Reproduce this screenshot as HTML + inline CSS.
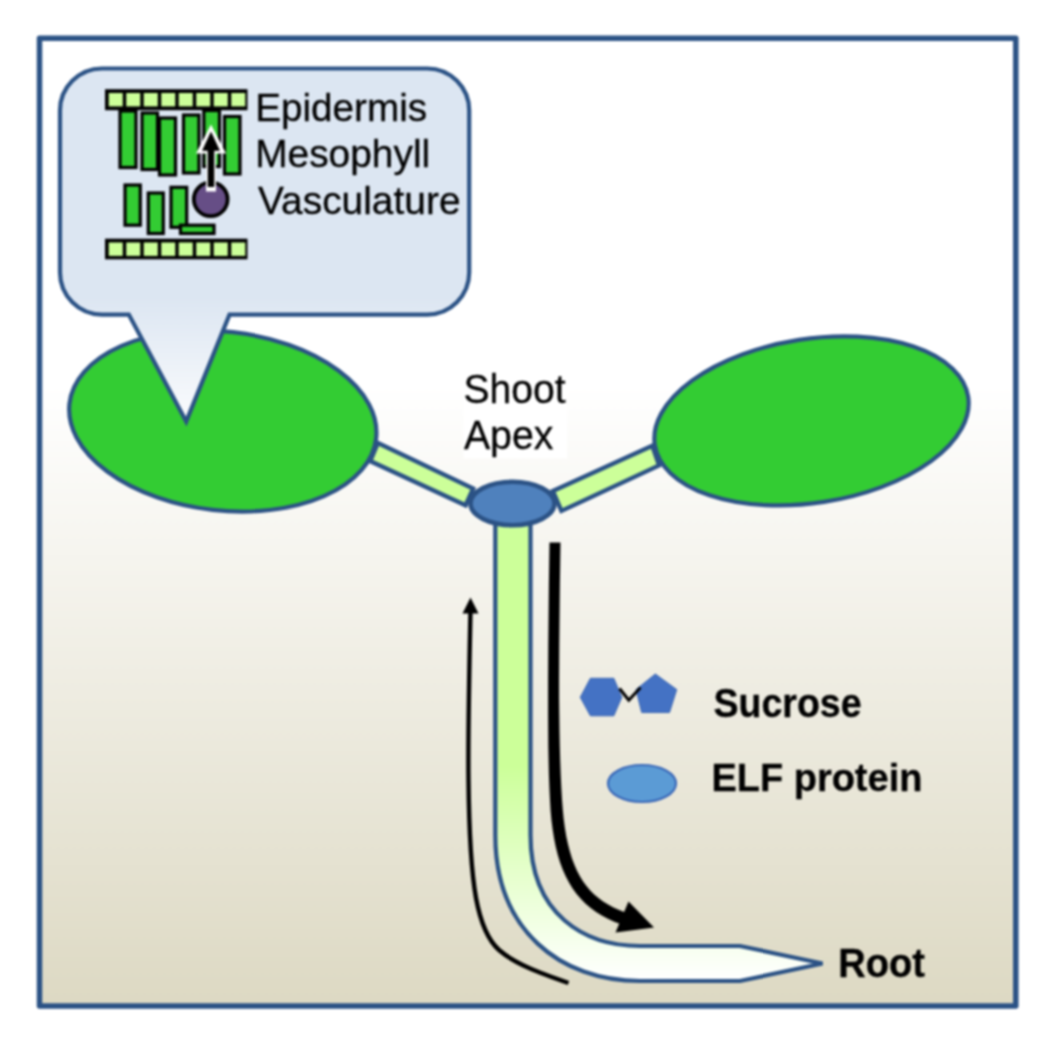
<!DOCTYPE html>
<html><head><meta charset="utf-8">
<style>
html,body{margin:0;padding:0;background:#fff;}
body{width:1050px;height:1039px;overflow:hidden;}
svg{display:block;}
text{font-family:"Liberation Sans",sans-serif;fill:#000;}
</style></head><body>
<svg width="1050" height="1039" viewBox="0 0 1050 1039">
<defs>
<linearGradient id="bg" x1="0" y1="0" x2="0" y2="1">
<stop offset="0" stop-color="#ffffff"/>
<stop offset="0.36" stop-color="#ffffff"/>
<stop offset="1" stop-color="#ddd9c3"/>
</linearGradient>
<linearGradient id="stem" gradientUnits="userSpaceOnUse" x1="0" y1="520" x2="0" y2="985">
<stop offset="0" stop-color="#ccff99"/>
<stop offset="0.527" stop-color="#ccff99"/>
<stop offset="0.989" stop-color="#ffffff"/>
<stop offset="1" stop-color="#ffffff"/>
</linearGradient>
<linearGradient id="call" gradientUnits="userSpaceOnUse" x1="0" y1="68" x2="0" y2="420">
<stop offset="0" stop-color="#dce6f2"/>
<stop offset="0.65" stop-color="#dce6f2"/>
<stop offset="1" stop-color="#fafbfd"/>
</linearGradient>
<filter id="soft" color-interpolation-filters="sRGB" x="0" y="0" width="1050" height="1039" filterUnits="userSpaceOnUse"><feGaussianBlur stdDeviation="0.8"/></filter>
</defs>
<g id="all" filter="url(#soft)">
<!-- frame -->
<rect x="39.500" y="38.300" width="976.300" height="967.800" fill="url(#bg)" stroke="#2b5285" stroke-width="5.500" stroke-linejoin="round"/>

<!-- petioles -->
<g fill="#ccff99" stroke="#2b5285" stroke-width="4.400">
<polygon points="377.900,442.900 473.100,488.600 465.500,505.300 370.200,461.100"/>
<polygon points="552.900,491.100 652.300,445.700 659.100,465.400 561.400,510.900"/>
</g>
<!-- stem -->
<path id="stempath" d="M495.300,520 L495.300,835 C495.300,930 560,981 640,981 L740,981 L822.500,963.500 L740,946 L640,946 C585,946 530.500,915 530.500,835 L530.500,520 Z" fill="url(#stem)" stroke="#2b5285" stroke-width="4.200" stroke-linejoin="miter"/>

<!-- leaves -->
<g fill="#33cc33" stroke="#2b5285" stroke-width="4.200">
<ellipse cx="222.800" cy="421" rx="154.300" ry="89.400" transform="rotate(6.500 222.800 421)"/>
<ellipse cx="811.500" cy="420.900" rx="158.500" ry="82" transform="rotate(-8.750 811.500 420.900)"/>
</g>
<!-- apex -->
<ellipse cx="512.500" cy="503.500" rx="42" ry="21.700" fill="#4f81bd" stroke="#2b5285" stroke-width="4.600"/>

<!-- callout -->
<path d="M102,68.500 L427.200,68.500 A42,42 0 0 1 469.200,110.500 L469.200,272.600 A42,42 0 0 1 427.200,314.600 L229.500,314.600 L186.200,421.500 L128.800,314.600 L102,314.600 A42,42 0 0 1 60,272.600 L60,110.500 A42,42 0 0 1 102,68.500 Z" fill="url(#call)" stroke="#2b5285" stroke-width="4.200" stroke-linejoin="miter"/>

<!-- cells -->
<g id="cells">
<rect x="105" y="89.200" width="142.500" height="21" fill="#000"/>
<rect x="105" y="238.700" width="142.500" height="20.600" fill="#000"/>
<g fill="#ccff99">
<rect x="108.75" y="93" width="14" height="13.400"/><rect x="126.25" y="93" width="14" height="13.400"/><rect x="143.75" y="93" width="14" height="13.400"/><rect x="161.25" y="93" width="14" height="13.400"/><rect x="178.75" y="93" width="14" height="13.400"/><rect x="196.25" y="93" width="14" height="13.400"/><rect x="213.75" y="93" width="14" height="13.400"/><rect x="231.25" y="93" width="14" height="13.400"/>
<rect x="108.75" y="242.5" width="14" height="13.400"/><rect x="126.25" y="242.5" width="14" height="13.400"/><rect x="143.75" y="242.5" width="14" height="13.400"/><rect x="161.25" y="242.5" width="14" height="13.400"/><rect x="178.75" y="242.5" width="14" height="13.400"/><rect x="196.25" y="242.5" width="14" height="13.400"/><rect x="213.75" y="242.5" width="14" height="13.400"/><rect x="231.25" y="242.5" width="14" height="13.400"/>
</g>
<g fill="#33cc33" stroke="#000" stroke-width="3.200">
<rect x="120" y="111" width="16" height="56.500"/>
<rect x="142" y="113" width="15.500" height="56.500"/>
<rect x="159.500" y="118" width="16" height="57"/>
<rect x="183.500" y="115" width="15.500" height="58"/>
<rect x="203.800" y="110.500" width="15.700" height="56"/>
<rect x="224.500" y="116.500" width="15.500" height="57.500"/>
<rect x="125" y="185" width="15.300" height="40.200"/>
<rect x="148.300" y="193" width="15" height="40.500"/>
<rect x="171" y="187.300" width="15.700" height="40"/>
<rect x="180.500" y="225.200" width="33.500" height="8.300"/>
</g>
<circle cx="210.700" cy="199.300" r="16.900" fill="#664e86" stroke="#000" stroke-width="3.800"/>
<path d="M211,124.500 L226,153.500 L216,153.500 L216,191.500 L206,191.500 L206,153.500 L196,153.500 Z" fill="#fff"/>
<path d="M211,131.500 L220,150.800 L214.300,150.800 L214.300,187 L207.700,187 L207.700,150.800 L202,150.800 Z" fill="#000"/>
</g>

<rect x="463.500" y="368" width="103.500" height="90.500" fill="#fff" opacity="0.900"/>
<!-- legend -->
<polygon points="580.300,697.300 590.400,678.300 613.800,678.300 621.800,697.300 613.800,715.800 590.400,715.800" fill="#4472c4" stroke="#3b66b4" stroke-width="1"/>
<polygon points="655.300,674 676.700,689.600 669.500,712.500 641.700,712.500 636,689.600" fill="#4472c4" stroke="#3b66b4" stroke-width="1"/>
<polyline points="619.500,688.500 628.800,700.300 640.500,687.500" fill="none" stroke="#000" stroke-width="3"/>
<ellipse cx="642" cy="783.500" rx="34" ry="18.500" fill="#5b9bd5" stroke="#3a68b8" stroke-width="2.200"/>

<!-- thin arrow -->
<path d="M470.500,610 C469,680 468,740 468.500,780 C469,830 471,870 476,898 C481,925 489,941 499,950 C515,964 540,973 568.500,983" fill="none" stroke="#000" stroke-width="4.400"/>
<polygon points="470.500,597.500 478.500,613.500 462.500,613.500" fill="#000"/>
<!-- thick arrow -->
<path d="M549.5,542.4 L549.2,563.7 L548.9,584.5 L548.7,604.7 L548.5,624.5 L548.3,643.7 L548.2,662.3 L548.1,680.3 L548.1,697.7 L548.1,714.4 L548.2,730.5 L548.3,745.9 L548.6,760.7 L548.9,774.6 L549.4,787.9 L550.0,800.4 L550.6,810.7 L551.5,820.5 L552.7,829.8 L554.1,838.6 L555.8,847.0 L557.8,855.0 L560.1,862.5 L562.7,869.6 L565.7,876.2 L569.0,882.5 L572.6,888.4 L576.6,893.9 L581.0,899.0 L585.6,903.7 L590.7,908.0 L596.1,911.9 L601.8,915.5 L607.9,918.7 L614.3,921.7 L621.1,924.2 L628.2,926.5 L631.8,914.5 L625.3,912.4 L619.2,910.0 L613.5,907.4 L608.1,904.6 L603.1,901.5 L598.5,898.1 L594.2,894.4 L590.2,890.4 L586.5,886.1 L583.1,881.4 L579.9,876.3 L577.0,870.8 L574.4,864.8 L572.0,858.4 L569.9,851.6 L568.0,844.2 L566.3,836.4 L564.9,828.0 L563.7,819.1 L562.8,809.7 L562.0,799.6 L561.3,787.3 L560.7,774.2 L560.2,760.3 L559.8,745.7 L559.5,730.4 L559.3,714.4 L559.1,697.7 L559.1,680.3 L559.2,662.3 L559.3,643.7 L559.5,624.6 L559.7,604.9 L559.9,584.6 L560.2,563.8 L560.5,542.6 Z" fill="#000"/>
<polygon points="654,927.500 628.500,901.500 615.500,932.500" fill="#000"/>
</g>
<g id="labels" filter="url(#soft)" stroke="#000" stroke-width="0.300" stroke-linejoin="round">
<!-- labels -->
<text id="t1" x="255.20" y="121" font-size="39" textLength="171.90" lengthAdjust="spacingAndGlyphs">Epidermis</text>
<text id="t2" x="255.20" y="167.200" font-size="39" textLength="174.98" lengthAdjust="spacingAndGlyphs">Mesophyll</text>
<text id="t3" x="258.00" y="213.700" font-size="39" textLength="202.53" lengthAdjust="spacingAndGlyphs">Vasculature</text>
<text id="t4" x="463.50" y="403.2" font-size="39.8" textLength="102.10" lengthAdjust="spacingAndGlyphs">Shoot</text>
<text id="t5" x="463.90" y="449.4" font-size="39.8" textLength="89.52" lengthAdjust="spacingAndGlyphs">Apex</text>
<text id="t6" x="713.50" y="716.500" font-size="41.200" font-weight="bold" textLength="148.10" lengthAdjust="spacingAndGlyphs">Sucrose</text>
<text id="t7" x="711.40" y="791.3" font-size="39.600" font-weight="bold" textLength="211.00" lengthAdjust="spacingAndGlyphs">ELF protein</text>
<text id="t8" x="838.30" y="976.9" font-size="40.500" font-weight="bold" textLength="86.72" lengthAdjust="spacingAndGlyphs">Root</text>

</g>
</svg>
</body></html>
